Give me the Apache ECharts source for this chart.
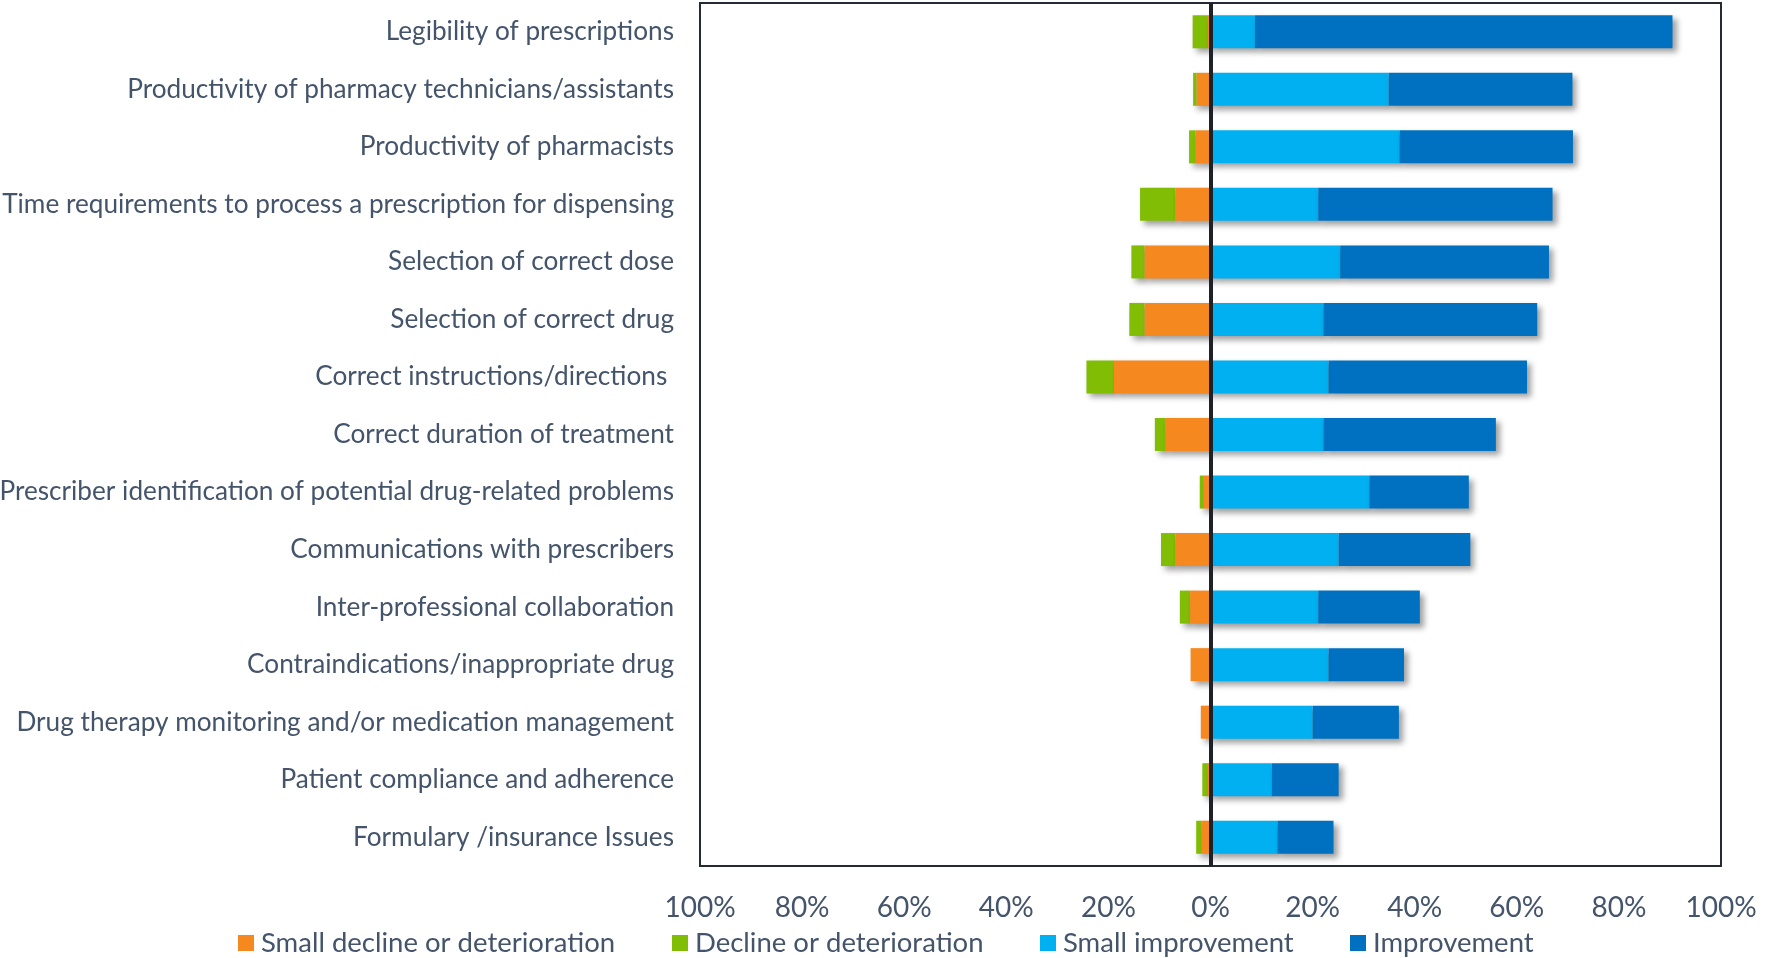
<!DOCTYPE html>
<html>
<head>
<meta charset="utf-8">
<title>Perceived impact of e-prescribing</title>
<script src="https://cdn.jsdelivr.net/npm/echarts@6/dist/echarts.min.js"></script>
<style>
  html, body { margin: 0; padding: 0; background: #ffffff; }
  #chart { width: 1767px; height: 958px; }
</style>
</head>
<body>
<div id="chart"></div>
<script>
// Survey items, top to bottom
const categories = [
  'Legibility of prescriptions',
  'Productivity of pharmacy technicians/assistants',
  'Productivity of pharmacists',
  'Time requirements to process a prescription for dispensing',
  'Selection of correct dose',
  'Selection of correct drug',
  'Correct instructions/directions ',
  'Correct duration of treatment',
  'Prescriber identification of potential drug-related problems',
  'Communications with prescribers',
  'Inter-professional collaboration',
  'Contraindications/inappropriate drug',
  'Drug therapy monitoring and/or medication management',
  'Patient compliance and adherence',
  'Formulary /insurance Issues'
];

// Share of respondents (%) per answer
const smallDecline     = [0.5, 2.7, 2.9, 6.9, 12.9, 12.9, 18.9, 8.9, 1.3, 6.9, 4.0, 3.9, 1.9, 0.5, 1.7];
const decline          = [3.0, 0.7, 1.3, 6.9, 2.6, 3.0, 5.4, 2.0, 0.8, 2.8, 2.0, 0, 0, 1.1, 1.1];
const smallImprovement = [8.7, 34.9, 37.0, 21.1, 25.4, 22.1, 23.1, 22.1, 31.1, 25.1, 21.1, 23.1, 20.0, 12.0, 13.1];
const improvement      = [81.8, 36.0, 34.0, 45.9, 40.9, 41.9, 38.9, 33.8, 19.5, 25.8, 19.9, 14.8, 16.9, 13.1, 11.0];

// Axis ticks (percent)
const xTicks = { min: -100, max: 100, step: 20 };

const seriesNames = ['Small decline or deterioration', 'Decline or deterioration', 'Small improvement', 'Improvement'];
const seriesColors = ['#F5881F', '#80BD04', '#00B0F0', '#0070C0'];

const textColor = '#44546A';
const fontFamily = 'Lato, "Open Sans", sans-serif';

const shadow = {
  shadowColor: 'rgba(0,0,0,0.38)',
  shadowBlur: 6,
  shadowOffsetX: 4,
  shadowOffsetY: 4
};

function barSeries(idx, values, negative, z) {
  return {
    name: seriesNames[idx],
    type: 'bar',
    stack: 'total',
    barWidth: 33,
    z: z,
    itemStyle: Object.assign({ color: seriesColors[idx] }, shadow),
    emphasis: { disabled: true },
    data: values.map(v => negative ? -v : v)
  };
}

const legendLefts = [238, 672, 1040, 1350];

const chart = echarts.init(document.getElementById('chart'), null, { renderer: 'canvas' });

chart.setOption({
  animation: false,
  backgroundColor: '#ffffff',
  textStyle: { fontFamily: fontFamily },
  grid: {
    left: 700,
    right: 46,
    top: 3,
    bottom: 92,
    containLabel: false,
    outerBoundsMode: 'none',
    show: true,
    borderColor: '#262b33',
    borderWidth: 2,
    backgroundColor: 'transparent'
  },
  legend: seriesNames.map((name, i) => ({
    data: [name],
    left: legendLefts[i],
    top: 929,
    icon: 'rect',
    itemWidth: 16,
    itemHeight: 16,
    itemGap: 0,
    padding: 0,
    selectedMode: false,
    textStyle: { fontSize: 27.5, color: textColor, fontFamily: fontFamily, padding: [0, 0, 0, 2] }
  })),
  xAxis: {
    type: 'value',
    min: xTicks.min,
    max: xTicks.max,
    interval: xTicks.step,
    axisLine: { show: false },
    axisTick: { show: false },
    splitLine: { show: false },
    axisLabel: {
      fontSize: 28,
      color: textColor,
      margin: 28,
      formatter: v => Math.abs(v) + '%'
    }
  },
  yAxis: {
    type: 'category',
    inverse: true,
    data: categories,
    axisLine: { show: false },
    axisTick: { show: false },
    axisLabel: {
      fontSize: 26.2,
      color: textColor,
      margin: 26
    }
  },
  series: [
    barSeries(0, smallDecline, true, 3),
    barSeries(1, decline, true, 2),
    barSeries(2, smallImprovement, false, 4),
    barSeries(3, improvement, false, 5),
    {
      name: 'zero',
      type: 'line',
      data: [],
      z: 10,
      silent: true,
      markLine: {
        silent: true,
        symbol: ['none', 'none'],
        label: { show: false },
        lineStyle: { color: '#1e2228', width: 4, type: 'solid' },
        data: [{ xAxis: 0 }]
      }
    }
  ]
});
</script>
</body>
</html>
